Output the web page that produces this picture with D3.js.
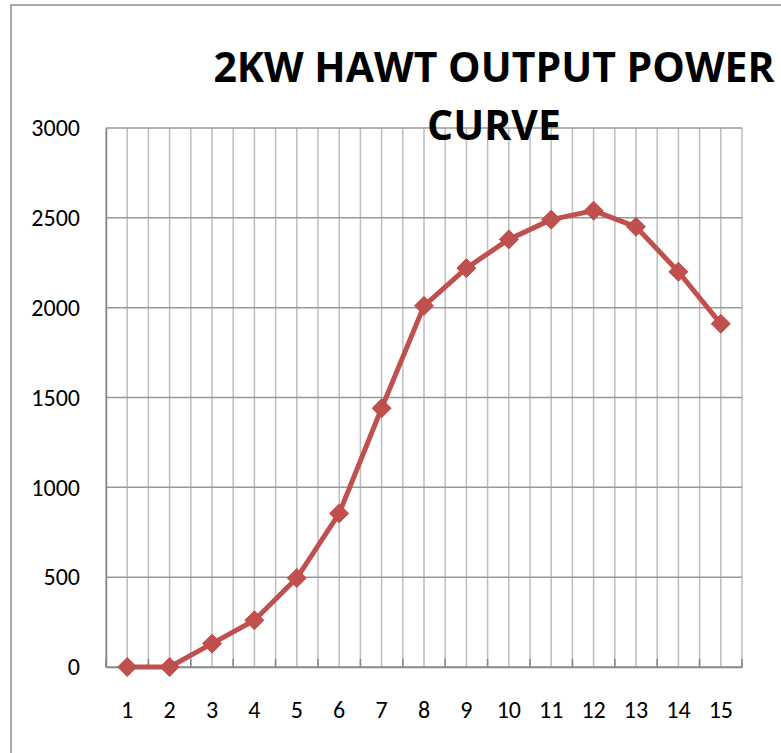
<!DOCTYPE html>
<html>
<head>
<meta charset="utf-8">
<script src="https://cdn.jsdelivr.net/npm/d3@7"></script>
<style>
  body { margin: 0; background: #fff; }
  text { font-family: Carlito, Lato, "Open Sans", sans-serif; }
</style>
</head>
<body>
<div id="chart"></div>
<script>
// wind speed steps and power output (W)
var categories = [1, 2, 3, 4, 5, 6, 7, 8, 9, 10, 11, 12, 13, 14, 15];
var power = [0, 0, 130, 260, 495, 855, 1440, 2010, 2220, 2380, 2490, 2540, 2450, 2200, 1910];
var yTicks = [0, 500, 1000, 1500, 2000, 2500, 3000];
var titleLines = ["2KW HAWT OUTPUT POWER", "CURVE"];

var width = 781, height = 753;
var margin = {top: 128, right: 39, bottom: 86, left: 106};
var w = width - margin.left - margin.right,
    h = height - margin.top - margin.bottom;

var svg = d3.select("#chart").append("svg")
    .attr("width", width)
    .attr("height", height);

// chart frame (runs off the right and bottom edge)
svg.append("rect")
    .attr("x", 11)
    .attr("y", 5)
    .attr("width", width + 20)
    .attr("height", height + 20)
    .attr("fill", "none")
    .attr("stroke", "#8c8c8c")
    .attr("stroke-width", 1.5);

var g = svg.append("g")
    .attr("transform", "translate(" + margin.left + "," + margin.top + ")");

var x = d3.scaleBand().domain(categories).range([0, w]).padding(0);
var y = d3.scaleLinear().domain([0, 3000]).range([h, 0]);
var bw = x.bandwidth();

// vertical gridlines on category edges and centres
var vlines = [];
categories.forEach(function (c) {
  vlines.push(x(c));
  vlines.push(x(c) + bw / 2);
});
vlines.push(w);
g.selectAll(".vgrid")
    .data(vlines)
  .enter().append("line")
    .attr("class", "vgrid")
    .attr("x1", function (d) { return d; })
    .attr("x2", function (d) { return d; })
    .attr("y1", 0)
    .attr("y2", h)
    .attr("stroke", "#bdbdbd")
    .attr("stroke-width", 1.5);

// horizontal gridlines
g.selectAll(".hgrid")
    .data(yTicks)
  .enter().append("line")
    .attr("class", "hgrid")
    .attr("x1", 0)
    .attr("x2", w)
    .attr("y1", function (d) { return y(d); })
    .attr("y2", function (d) { return y(d); })
    .attr("stroke", "#999999")
    .attr("stroke-width", 1.5);

// axes
var yAxis = g.append("g")
    .call(d3.axisLeft(y).tickValues(yTicks).tickFormat(d3.format("d")).tickSize(0).tickPadding(26));
yAxis.select(".domain").attr("stroke", "#868686").attr("stroke-width", 1.5);
yAxis.selectAll("text")
    .style("font-size", "24px")
    .attr("fill", "#000");

var xAxis = g.append("g")
    .attr("transform", "translate(0," + h + ")")
    .call(d3.axisBottom(x).tickSize(0).tickPadding(34));
xAxis.select(".domain").attr("stroke", "#868686").attr("stroke-width", 1.5);
xAxis.selectAll("text")
    .style("font-size", "24px")
    .attr("fill", "#000");

// inside tick marks on category boundaries
var edges = categories.map(function (c) { return x(c); }).concat([w]);
g.selectAll(".xtick")
    .data(edges)
  .enter().append("line")
    .attr("class", "xtick")
    .attr("x1", function (d) { return d; })
    .attr("x2", function (d) { return d; })
    .attr("y1", h)
    .attr("y2", h - 8)
    .attr("stroke", "#868686")
    .attr("stroke-width", 1.5);

// series line
var line = d3.line()
    .x(function (d, i) { return x(categories[i]) + bw / 2; })
    .y(function (d) { return y(d); });

g.append("path")
    .datum(power)
    .attr("fill", "none")
    .attr("stroke", "#c0504d")
    .attr("stroke-width", 5)
    .attr("stroke-linejoin", "round")
    .attr("d", line);

// diamond markers
g.selectAll(".marker")
    .data(power)
  .enter().append("path")
    .attr("class", "marker")
    .attr("d", d3.symbol().type(d3.symbolDiamond2).size(230))
    .attr("transform", function (d, i) {
      return "translate(" + (x(categories[i]) + bw / 2) + "," + y(d) + ")";
    })
    .attr("fill", "#c0504d")
    .attr("stroke", "#be4b48")
    .attr("stroke-width", 1);

// title
svg.selectAll(".title")
    .data(titleLines)
  .enter().append("text")
    .attr("class", "title")
    .attr("x", 494)
    .attr("y", function (d, i) { return 82 + i * 58; })
    .attr("text-anchor", "middle")
    .style("font-family", "'Open Sans', sans-serif")
    .style("font-size", "41px")
    .style("font-weight", "bold")
    .attr("fill", "#000")
    .text(function (d) { return d; });
</script>
</body>
</html>
